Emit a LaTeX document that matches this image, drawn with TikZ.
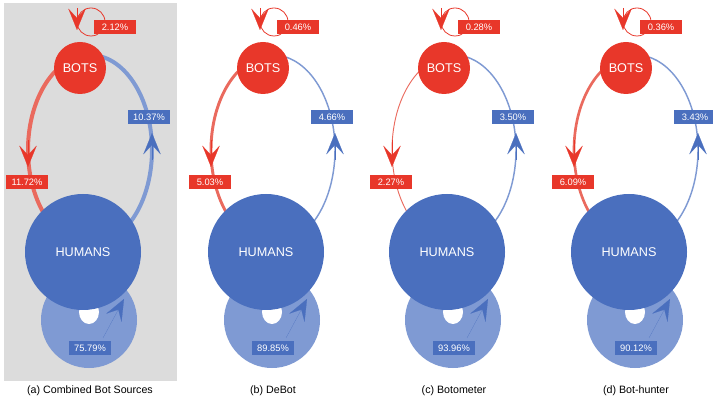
\documentclass[tikz,border=0pt]{standalone}
\usepackage{fontspec}
\setmainfont{Liberation Sans}
\usetikzlibrary{arrows.meta}
\definecolor{bred}{HTML}{E8372A}
\definecolor{lred}{HTML}{EA6A5E}
\definecolor{dblue}{HTML}{4A6FBE}
\definecolor{lblue}{HTML}{7F9AD3}
\definecolor{bgray}{HTML}{DCDCDC}
\tikzset{
 lab/.style={fill=#1,text=white,font=\fontsize{7}{8}\selectfont,minimum width=31pt,minimum height=10.5pt,inner sep=0pt},
 tipr/.style={-{Stealth[length=16pt,width=13pt,inset=7pt]},#1},
 bigc/.style={circle,fill=#1,text=white,inner sep=0pt},
}
\newcommand\drawpanel[8]{%
 \begin{scope}[xshift=#1*0.75pt]
 % self loop bots
 \draw[bred,line width=0.6pt] (91,22) circle[radius=14];
 \draw[tipr=bred,line width=0.1pt] (77,8) -- (77,30);
 % arcs
 \draw[lred,line width=#2] (90,150) ++(95:62 and 95) arc[start angle=95,end angle=265,x radius=62,y radius=95];
 \draw[lblue,line width=#3] (90,150) ++(-85:62 and 95) arc[start angle=-85,end angle=85,x radius=62,y radius=95];
 \draw[tipr=bred,line width=0.1pt] (28,140) -- (28,167);
 \draw[tipr=dblue,line width=0.1pt] (152,160) -- (152,133);
 % human self loop ring
 \fill[lblue] (89,320) circle[radius=48];
 \fill[white] (89,312) ellipse[x radius=10,y radius=12];
 \node[bigc=dblue,minimum size=87pt] (hum) at (83,252) {\fontsize{9.5}{10}\selectfont HUMANS};
 \draw[tipr=dblue,line width=0.1pt] (103,338) -- (124,299);
 \node[bigc=bred,minimum size=39pt] (bots) at (80,68) {\fontsize{9.5}{10}\selectfont BOTS};
 \node[lab=bred] at (115,27) {#4};
 \node[lab=bred] at (27,182) {#5};
 \node[lab=dblue] at (149,117) {#6};
 \node[lab=dblue] at (90,348) {#7};
 \node[font=\fontsize{8}{9}\selectfont] at (90,391) {#8};
 \end{scope}}
\begin{document}
\begin{tikzpicture}[x=0.75pt,y=-0.75pt]
\useasboundingbox (0,0) rectangle (713,402);
\fill[bgray] (4,3) rectangle (177,381);
\drawpanel{0}{3pt}{3pt}{2.12\%}{11.72\%}{10.37\%}{75.79\%}{(a) Combined Bot Sources}
\drawpanel{183}{2.2pt}{1.1pt}{0.46\%}{5.03\%}{4.66\%}{89.85\%}{(b) DeBot}
\drawpanel{364}{0.7pt}{1.1pt}{0.28\%}{2.27\%}{3.50\%}{93.96\%}{(c) Botometer}
\drawpanel{546}{2pt}{1.1pt}{0.36\%}{6.09\%}{3.43\%}{90.12\%}{(d) Bot-hunter}
\end{tikzpicture}
\end{document}
